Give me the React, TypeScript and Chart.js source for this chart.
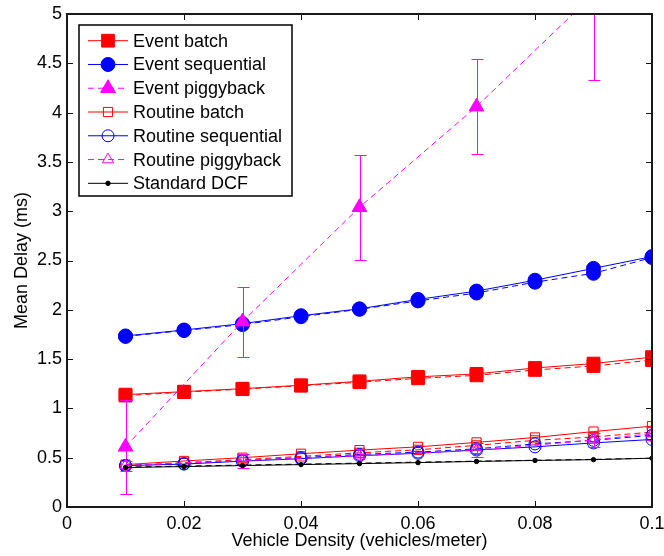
import React, { useEffect, useRef } from 'react';
import { Chart, registerables } from 'chart.js';
import { drawPoint } from 'chart.js/helpers';

Chart.register(...registerables);

// ---- data ----
const densities = [0.01, 0.02, 0.03, 0.04, 0.05, 0.06, 0.07, 0.08, 0.09, 0.1];
const piggyDensities = [0.01, 0.03, 0.05, 0.07, 0.09];
const routinePiggyDensities = [0.01, 0.03, 0.05, 0.07, 0.09, 0.1];

const eventBatch = [1.14, 1.17, 1.2, 1.235, 1.275, 1.32, 1.35, 1.41, 1.455, 1.52];
const eventBatchAnalytic = [1.13, 1.165, 1.195, 1.23, 1.265, 1.305, 1.335, 1.39, 1.43, 1.49];
const eventSequential = [1.735, 1.795, 1.86, 1.94, 2.01, 2.105, 2.19, 2.3, 2.42, 2.54];
const eventSequentialAnalytic = [1.73, 1.79, 1.85, 1.93, 2.005, 2.09, 2.17, 2.28, 2.37, 2.53];
const eventPiggyback = [0.61, 1.88, 3.04, 4.06, 5.2];
const eventPiggybackErr = [0.48, 0.355, 0.53, 0.48, 0.87];

const routineBatch = [0.43, 0.467, 0.5, 0.54, 0.577, 0.61, 0.655, 0.705, 0.765, 0.82];
const routineBatchAnalytic = [0.42, 0.45, 0.48, 0.513, 0.55, 0.58, 0.625, 0.676, 0.71, 0.76];
const routineSequential = [0.42, 0.435, 0.465, 0.49, 0.52, 0.545, 0.578, 0.61, 0.65, 0.685];
const routineSequentialAnalytic = [0.42, 0.44, 0.47, 0.5, 0.533, 0.557, 0.59, 0.64, 0.676, 0.727];
const routinePiggyback = [0.42, 0.47, 0.52, 0.575, 0.68, 0.745];
const routinePiggybackErr = [0.05, 0.07, 0.07, 0.07, 0.07, 0.07];

const standardDcf = [0.4, 0.41, 0.42, 0.43, 0.44, 0.45, 0.462, 0.472, 0.48, 0.495];
const standardDcfAnalytic = [0.405, 0.415, 0.425, 0.435, 0.445, 0.455, 0.465, 0.474, 0.483, 0.495];

const xTicks = [0, 0.02, 0.04, 0.06, 0.08, 0.1];
const yTicks = [0, 0.5, 1, 1.5, 2, 2.5, 3, 3.5, 4, 4.5, 5];

const xTitle = 'Vehicle Density (vehicles/meter)';
const yTitle = 'Mean Delay (ms)';

const RED = '#ff0000';
const BLUE = '#0000ff';
const MAGENTA = '#ff00ff';
const BLACK = '#000000';
const FONT = "'Liberation Sans', Arial, Helvetica, sans-serif";
const FONT_SIZE = 18;

const pts = (xs: number[], ys: number[]) => xs.map((x, i) => ({ x, y: ys[i] }));

type Spec = {
  label: string;
  xs: number[];
  ys: number[];
  color: string;
  dashed: boolean;
  style: string;
  radius: number;
  filled: boolean;
  legend: boolean;
  errors?: number[];
};

const specs: Spec[] = [
  { label: 'Event batch', xs: densities, ys: eventBatch, color: RED, dashed: false, style: 'rect', radius: 9, filled: true, legend: true },
  { label: 'Event batch (analysis)', xs: densities, ys: eventBatchAnalytic, color: RED, dashed: true, style: 'rect', radius: 9, filled: true, legend: false },
  { label: 'Event sequential', xs: densities, ys: eventSequential, color: BLUE, dashed: false, style: 'circle', radius: 7, filled: true, legend: true },
  { label: 'Event sequential (analysis)', xs: densities, ys: eventSequentialAnalytic, color: BLUE, dashed: true, style: 'circle', radius: 7, filled: true, legend: false },
  { label: 'Event piggyback', xs: piggyDensities, ys: eventPiggyback, color: MAGENTA, dashed: true, style: 'triangle', radius: 8.5, filled: true, legend: true, errors: eventPiggybackErr },
  { label: 'Routine batch', xs: densities, ys: routineBatch, color: RED, dashed: false, style: 'rect', radius: 6.5, filled: false, legend: true },
  { label: 'Routine batch (analysis)', xs: densities, ys: routineBatchAnalytic, color: RED, dashed: true, style: 'rect', radius: 6.5, filled: false, legend: false },
  { label: 'Routine sequential', xs: densities, ys: routineSequential, color: BLUE, dashed: false, style: 'circle', radius: 6, filled: false, legend: true },
  { label: 'Routine sequential (analysis)', xs: densities, ys: routineSequentialAnalytic, color: BLUE, dashed: true, style: 'circle', radius: 6, filled: false, legend: false },
  { label: 'Routine piggyback', xs: routinePiggyDensities, ys: routinePiggyback, color: MAGENTA, dashed: true, style: 'triangle', radius: 6.5, filled: false, legend: true, errors: routinePiggybackErr },
  { label: 'Standard DCF', xs: densities, ys: standardDcf, color: BLACK, dashed: false, style: 'circle', radius: 2.2, filled: true, legend: true },
  { label: 'Standard DCF (analysis)', xs: densities, ys: standardDcfAnalytic, color: BLACK, dashed: true, style: 'circle', radius: 0, filled: true, legend: false },
];

const DASH = [6, 4];

const errorBarPlugin = {
  id: 'errorBars',
  afterDatasetDraw(chart: any, args: any) {
    const ds = chart.data.datasets[args.index];
    if (!ds || !ds.errors) return;
    const { ctx, chartArea } = chart;
    const xs = chart.scales.x;
    const ys = chart.scales.y;
    ctx.save();
    ctx.beginPath();
    ctx.rect(chartArea.left, chartArea.top, chartArea.right - chartArea.left, chartArea.bottom - chartArea.top);
    ctx.clip();
    ctx.setLineDash([]);
    ctx.strokeStyle = ds.errorColor;
    ctx.lineWidth = 1;
    ds.data.forEach((p: any, i: number) => {
      const e = ds.errors[i];
      const px = Math.round(xs.getPixelForValue(p.x)) + 0.5;
      const top = Math.round(ys.getPixelForValue(p.y + e)) + 0.5;
      const bot = Math.round(ys.getPixelForValue(p.y - e)) + 0.5;
      ctx.beginPath();
      ctx.moveTo(px, top);
      ctx.lineTo(px, bot);
      ctx.moveTo(px - 6, top);
      ctx.lineTo(px + 6, top);
      ctx.moveTo(px - 6, bot);
      ctx.lineTo(px + 6, bot);
      ctx.stroke();
    });
    ctx.restore();
  },
};

const boxPlugin = {
  id: 'matlabBox',
  afterDraw(chart: any) {
    const { ctx, chartArea } = chart;
    const { left, right, top, bottom } = chartArea;
    const xs = chart.scales.x;
    const ys = chart.scales.y;
    ctx.save();
    ctx.setLineDash([]);
    ctx.strokeStyle = '#111';
    ctx.lineWidth = 1;
    const tl = 6;
    ctx.beginPath();
    xTicks.forEach((v) => {
      const px = Math.round(xs.getPixelForValue(v)) + 0.5;
      ctx.moveTo(px, bottom);
      ctx.lineTo(px, bottom - tl);
      ctx.moveTo(px, top);
      ctx.lineTo(px, top + tl);
    });
    yTicks.forEach((v) => {
      const py = Math.round(ys.getPixelForValue(v)) + 0.5;
      ctx.moveTo(left, py);
      ctx.lineTo(left + tl, py);
      ctx.moveTo(right, py);
      ctx.lineTo(right - tl, py);
    });
    ctx.stroke();
    ctx.lineWidth = 2;
    ctx.strokeStyle = '#1a1a1a';
    ctx.strokeRect(left, top, right - left, bottom - top);
    ctx.restore();
  },
};

const legendPlugin = {
  id: 'matlabLegend',
  afterDraw(chart: any) {
    const { ctx, chartArea } = chart;
    const x0 = Math.round(chartArea.left) + 12;
    const y0 = Math.round(chartArea.top) + 11;
    const w = 213;
    const h = 171;
    ctx.save();
    ctx.fillStyle = '#ffffff';
    ctx.fillRect(x0, y0, w, h);
    ctx.strokeStyle = '#000';
    ctx.lineWidth = 1.5;
    ctx.strokeRect(x0, y0, w, h);
    const entries = chart.data.datasets.filter((d: any) => d.inLegend);
    entries.forEach((ds: any, i: number) => {
      const cy = y0 + 15.7 + i * 23.77;
      ctx.save();
      ctx.strokeStyle = ds.borderColor;
      ctx.lineWidth = 1;
      ctx.setLineDash(ds.borderDash || []);
      ctx.beginPath();
      ctx.moveTo(x0 + 9, cy);
      ctx.lineTo(x0 + 49, cy);
      ctx.stroke();
      ctx.setLineDash([]);
      ctx.fillStyle = ds.pointBackgroundColor;
      ctx.strokeStyle = ds.pointBorderColor;
      ctx.lineWidth = 1;
      drawPoint(ctx, { pointStyle: ds.pointStyle, rotation: 0, radius: ds.pointRadius, borderWidth: 1 } as any, x0 + 29, cy);
      ctx.restore();
      ctx.fillStyle = '#000';
      ctx.font = `${FONT_SIZE}px ${FONT}`;
      ctx.textBaseline = 'middle';
      ctx.textAlign = 'left';
      ctx.fillText(ds.label, x0 + 54, cy + 1);
    });
    ctx.restore();
  },
};

export default function App() {
  const ref = useRef<HTMLCanvasElement | null>(null);

  useEffect(() => {
    document.body.style.margin = '0';
    const canvas = ref.current;
    if (!canvas) return;

    const datasets = specs.map((s, i) => ({
      label: s.label,
      data: pts(s.xs, s.ys),
      borderColor: s.color,
      backgroundColor: s.color,
      borderWidth: 1,
      borderDash: s.dashed ? DASH : [],
      pointStyle: s.style,
      pointRadius: s.radius,
      pointBorderWidth: 1,
      pointBorderColor: s.color,
      pointBackgroundColor: s.filled ? s.color : 'rgba(0,0,0,0)',
      tension: 0,
      fill: false,
      order: -i,
      inLegend: s.legend,
      errors: s.errors,
      errorColor: s.color,
    }));

    const chart = new Chart(canvas, {
      type: 'line',
      data: { datasets: datasets as any },
      plugins: [errorBarPlugin, boxPlugin, legendPlugin],
      options: {
        animation: false,
        responsive: false,
        devicePixelRatio: 1,
        events: [],
        layout: { padding: { top: 14, right: 12, left: 0, bottom: 0 } },
        plugins: {
          legend: { display: false },
          tooltip: { enabled: false },
        },
        scales: {
          x: {
            type: 'linear',
            min: 0,
            max: 0.1,
            afterBuildTicks: (s: any) => {
              s.ticks = xTicks.map((v) => ({ value: v }));
            },
            afterFit: (s: any) => {
              s.height = 49;
              s.paddingLeft = 0;
              s.paddingRight = 0;
            },
            grid: { display: false, drawTicks: false },
            border: { display: false },
            ticks: {
              color: '#000',
              font: { family: FONT, size: FONT_SIZE },
              padding: 6,
              maxRotation: 0,
              autoSkip: false,
              callback: (v: any) => String(v),
            },
            title: {
              display: true,
              text: xTitle,
              color: '#000',
              font: { family: FONT, size: FONT_SIZE },
              padding: { top: 0, bottom: 4.5 },
            },
          },
          y: {
            type: 'linear',
            min: 0,
            max: 5,
            afterBuildTicks: (s: any) => {
              s.ticks = yTicks.map((v) => ({ value: v }));
            },
            afterFit: (s: any) => {
              s.width = 67;
              s.paddingTop = 0;
              s.paddingBottom = 0;
            },
            grid: { display: false, drawTicks: false },
            border: { display: false },
            ticks: {
              color: '#000',
              font: { family: FONT, size: FONT_SIZE },
              padding: 5,
              autoSkip: false,
              callback: (v: any) => String(v),
            },
            title: {
              display: true,
              text: yTitle,
              color: '#000',
              font: { family: FONT, size: FONT_SIZE },
              padding: { top: 11, bottom: 0 },
            },
          },
        },
      } as any,
    });

    return () => chart.destroy();
  }, []);

  return (
    <div style={{ width: 664, height: 556, background: '#fff' }}>
      <canvas ref={ref} width={664} height={556} style={{ display: 'block' }} />
    </div>
  );
}
